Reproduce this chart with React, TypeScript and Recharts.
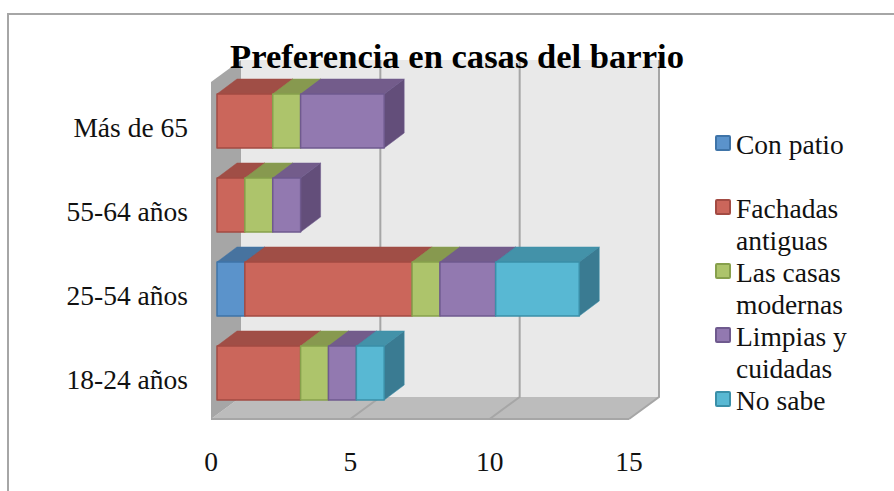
import React from 'react';
import { BarChart, Bar, XAxis, YAxis, Legend, ReferenceArea } from 'recharts';

const ageGroups = ['Más de 65', '55-64 años', '25-54 años', '18-24 años'];
const seriesNames = ['Con patio', 'Fachadas antiguas', 'Las casas modernas', 'Limpias y cuidadas', 'No sabe'];
const conPatio = [0, 0, 1, 0];
const fachadas = [2, 1, 6, 3];
const modernas = [1, 1, 1, 1];
const limpias = [3, 1, 2, 1];
const noSabe = [0, 0, 3, 1];
const xTicks = [0, 5, 10, 15];
const xMax = 15;

const frontColors = ['#5b93cb', '#cb665b', '#adc46b', '#9279b0', '#58b8d3'];
const edgeColors = ['#3f74a8', '#a34b43', '#87a04c', '#6f5a8e', '#3a8fa8'];
const topColors = ['#47739f', '#a04e46', '#87994f', '#735c8b', '#4392a9'];
const sideColors = ['#3d6488', '#8a423b', '#73833f', '#634e7a', '#3a7b92'];

const seriesValues = [conPatio, fachadas, modernas, limpias, noSabe];
const data = ageGroups.map((name, i) => {
  const row: Record<string, string | number> = { name };
  seriesNames.forEach((s, j) => {
    row[s] = seriesValues[j][i];
  });
  return row;
});

const FONT = '"Liberation Serif", serif';
const GREY = '#a6a6a6';

// depth of the 3d box around the plot, and of the bars
const WALL_DX = 30;
const WALL_DY = 22;
const BAR_DX = 20;
const BAR_DY = 15;
const SHIFT_X = 6;
const SHIFT_Y = 4;

const Walls = ({ x, y, width, height }: any) => {
  const left = x - SHIFT_X;
  const right = left + width;
  const top = y + SHIFT_Y - 1;
  const bottom = y + height + SHIFT_Y;
  return (
    <g>
      <polygon
        points={`${left + WALL_DX},${top - WALL_DY} ${right + WALL_DX},${top - WALL_DY} ${right + WALL_DX},${bottom - WALL_DY} ${left + WALL_DX},${bottom - WALL_DY}`}
        fill="#e9e9e9"
      />
      <polygon
        points={`${left},${bottom} ${right},${bottom} ${right + WALL_DX},${bottom - WALL_DY} ${left + WALL_DX},${bottom - WALL_DY}`}
        fill="#bcbcbc"
      />
      <polygon
        points={`${left},${top} ${left + WALL_DX},${top - WALL_DY} ${left + WALL_DX},${bottom - WALL_DY} ${left},${bottom}`}
        fill={GREY}
      />
      <path d={`M${left} ${bottom}H${right}`} stroke={GREY} strokeWidth={2} />
      {xTicks.slice(1).map((t) => {
        const fx = left + (width * t) / xMax;
        return (
          <path
            key={t}
            d={`M${fx} ${bottom}L${fx + WALL_DX} ${bottom - WALL_DY}V${top - WALL_DY}`}
            fill="none"
            stroke={GREY}
            strokeWidth={2}
          />
        );
      })}
    </g>
  );
};

const Box3D = ({ x, y, width, height, index2 }: any) => {
  if (!width) return null;
  const r = x + width;
  return (
    <g stroke={edgeColors[index2]} strokeWidth={1.5} strokeLinejoin="round">
      <polygon
        points={`${x},${y} ${x + BAR_DX},${y - BAR_DY} ${r + BAR_DX},${y - BAR_DY} ${r},${y}`}
        fill={topColors[index2]}
        strokeWidth={0.5}
      />
      <polygon
        points={`${r},${y} ${r + BAR_DX},${y - BAR_DY} ${r + BAR_DX},${y + height - BAR_DY} ${r},${y + height}`}
        fill={sideColors[index2]}
        strokeWidth={0.5}
      />
      <rect x={x} y={y} width={width} height={height} fill={frontColors[index2]} />
    </g>
  );
};

const CategoryTick = ({ x, y, payload }: any) => (
  <text x={x} y={y + 6} dy="0.35em" textAnchor="end" fontSize={27.5} fontFamily={FONT} fill="#111">
    {payload.value}
  </text>
);

const ValueTick = ({ x, payload }: any) => (
  <text x={x - SHIFT_X} y={461} dy="0.35em" textAnchor="middle" fontSize={27.5} fontFamily={FONT} fill="#111">
    {payload.value}
  </text>
);

const LegendList = ({ payload }: any) => (
  <div style={{ fontFamily: FONT, fontSize: 27.5, lineHeight: '32px', color: '#111' }}>
    {(payload || []).map((entry: any) => (
      <div key={entry.value} style={{ height: 64, display: 'flex' }}>
        <span
          style={{
            flex: 'none',
            boxSizing: 'border-box',
            width: 16,
            height: 16,
            marginTop: 6,
            marginRight: 5,
            background: entry.color,
            border: `2.5px solid ${edgeColors[seriesNames.indexOf(entry.value)]}`,
            borderRadius: 2,
          }}
        />
        <span>{entry.value}</span>
      </div>
    ))}
  </div>
);

export default function App() {
  return (
    <div style={{ position: 'absolute', left: 0, top: 0, width: 894, height: 491, background: '#fff', overflow: 'hidden' }}>
      <div
        style={{
          position: 'absolute',
          left: 7,
          top: 13,
          width: 900,
          height: 500,
          boxSizing: 'border-box',
          borderLeft: '2.5px solid #a6a6a6',
          borderTop: '2.5px solid #a6a6a6',
        }}
      />
      <BarChart
        width={894}
        height={491}
        data={data}
        layout="vertical"
        margin={{ top: 79, right: 259, bottom: 0, left: 0 }}
        style={{ position: 'absolute', left: 0, top: 0 }}
      >
        <XAxis
          type="number"
          domain={[0, xMax]}
          ticks={xTicks}
          height={76}
          axisLine={false}
          tickLine={false}
          tick={ValueTick}
        />
        <YAxis
          type="category"
          dataKey="name"
          width={217}
          axisLine={false}
          tickLine={false}
          tickMargin={23}
          tick={CategoryTick}
        />
        <ReferenceArea x1={0} x2={xMax} shape={Walls} ifOverflow="visible" />
        {seriesNames.map((s, j) => (
          <Bar
            key={s}
            dataKey={s}
            name={s}
            stackId="a"
            barSize={54}
            fill={frontColors[j]}
            isAnimationActive={false}
            shape={(p: any) => <Box3D {...p} index2={j} />}
          />
        ))}
        <Legend
          layout="horizontal"
          verticalAlign="middle"
          align="center"
          content={LegendList}
          wrapperStyle={{ left: 715, top: 129, width: 150 }}
        />
      </BarChart>
      <div
        style={{
          position: 'absolute',
          left: 157,
          top: 36,
          width: 600,
          textAlign: 'center',
          fontFamily: FONT,
          fontSize: 34.6,
          lineHeight: '40px',
          fontWeight: 'bold',
          color: '#000',
        }}
      >
        Preferencia en casas del barrio
      </div>
    </div>
  );
}
